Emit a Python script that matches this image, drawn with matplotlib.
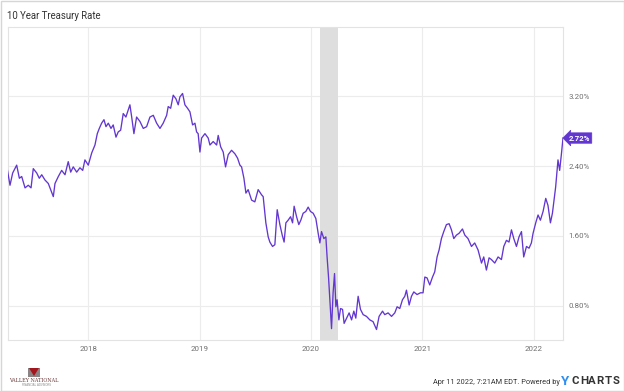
import matplotlib
matplotlib.use("Agg")
import matplotlib.pyplot as plt
from matplotlib.patches import Rectangle, Polygon

# ---- data (decimal year, 10Y rate in %) ----
years = [
    2017.273, 2017.297, 2017.321, 2017.357, 2017.381, 2017.402, 2017.432, 2017.461, 2017.486, 2017.506,
    2017.537, 2017.560, 2017.582, 2017.611, 2017.641, 2017.686, 2017.701, 2017.731, 2017.761, 2017.791,
    2017.820, 2017.842, 2017.865, 2017.896, 2017.925, 2017.950, 2017.970, 2018.000, 2018.031, 2018.060,
    2018.081, 2018.099, 2018.120, 2018.141, 2018.159, 2018.180, 2018.204, 2018.224, 2018.249, 2018.269,
    2018.291, 2018.314, 2018.338, 2018.374, 2018.390, 2018.410, 2018.434, 2018.464, 2018.494, 2018.524,
    2018.554, 2018.584, 2018.614, 2018.644, 2018.673, 2018.704, 2018.718, 2018.740, 2018.763, 2018.787,
    2018.808, 2018.823, 2018.847, 2018.868, 2018.892, 2018.913, 2018.937, 2018.958, 2018.973, 2018.987,
    2019.003, 2019.018, 2019.048, 2019.077, 2019.093, 2019.122, 2019.153, 2019.167, 2019.189, 2019.212,
    2019.233, 2019.257, 2019.287, 2019.317, 2019.341, 2019.362, 2019.377, 2019.398, 2019.416, 2019.436,
    2019.467, 2019.496, 2019.526, 2019.557, 2019.571, 2019.595, 2019.616, 2019.631, 2019.655, 2019.676,
    2019.697, 2019.721, 2019.742, 2019.759, 2019.775, 2019.795, 2019.817, 2019.835, 2019.849, 2019.871,
    2019.891, 2019.909, 2019.930, 2019.954, 2019.975, 2019.996, 2020.020, 2020.044, 2020.065, 2020.080,
    2020.095, 2020.116, 2020.134, 2020.145, 2020.158, 2020.170, 2020.185, 2020.199, 2020.212, 2020.224,
    2020.235, 2020.251, 2020.266, 2020.284, 2020.298, 2020.320, 2020.343, 2020.365, 2020.385, 2020.403,
    2020.424, 2020.445, 2020.469, 2020.499, 2020.529, 2020.558, 2020.589, 2020.612, 2020.643, 2020.663,
    2020.693, 2020.724, 2020.753, 2020.774, 2020.798, 2020.822, 2020.843, 2020.858, 2020.882, 2020.903,
    2020.924, 2020.953, 2020.984, 2021.007, 2021.023, 2021.043, 2021.067, 2021.092, 2021.112, 2021.133,
    2021.151, 2021.172, 2021.193, 2021.217, 2021.241, 2021.262, 2021.283, 2021.307, 2021.330, 2021.361,
    2021.382, 2021.411, 2021.442, 2021.471, 2021.501, 2021.532, 2021.552, 2021.576, 2021.600, 2021.621,
    2021.651, 2021.681, 2021.711, 2021.732, 2021.756, 2021.779, 2021.801, 2021.822, 2021.846, 2021.869,
    2021.891, 2021.911, 2021.936, 2021.959, 2021.980, 2021.995, 2022.019, 2022.040, 2022.061, 2022.085,
    2022.109, 2022.129, 2022.151, 2022.169, 2022.183, 2022.198, 2022.219, 2022.234, 2022.250, 2022.264,
]
rates = [
    2.36, 2.18, 2.32, 2.41, 2.26, 2.28, 2.15, 2.18, 2.15, 2.37,
    2.32, 2.26, 2.30, 2.24, 2.20, 2.05, 2.20, 2.28, 2.35, 2.30,
    2.45, 2.33, 2.39, 2.33, 2.38, 2.35, 2.47, 2.41, 2.55, 2.64,
    2.77, 2.83, 2.89, 2.93, 2.85, 2.89, 2.83, 2.87, 2.73, 2.79,
    2.81, 3.00, 2.96, 3.10, 2.96, 2.77, 2.96, 2.91, 2.83, 2.85,
    2.96, 2.98, 2.89, 2.83, 2.89, 2.98, 3.08, 3.06, 3.21, 3.17,
    3.10, 3.19, 3.23, 3.10, 3.06, 3.02, 2.87, 2.89, 2.79, 2.77,
    2.56, 2.72, 2.77, 2.72, 2.64, 2.68, 2.64, 2.75, 2.62, 2.56,
    2.39, 2.53, 2.58, 2.54, 2.49, 2.41, 2.39, 2.26, 2.09, 2.13,
    2.01, 1.99, 2.13, 2.07, 2.05, 1.75, 1.59, 1.53, 1.48, 1.50,
    1.90, 1.73, 1.61, 1.53, 1.75, 1.78, 1.82, 1.75, 1.94, 1.82,
    1.73, 1.78, 1.86, 1.88, 1.93, 1.88, 1.86, 1.80, 1.63, 1.52,
    1.65, 1.57, 1.59, 1.36, 1.13, 0.87, 0.54, 0.95, 1.17, 0.79,
    0.87, 0.64, 0.77, 0.76, 0.60, 0.66, 0.72, 0.64, 0.74, 0.66,
    0.91, 0.76, 0.70, 0.68, 0.64, 0.62, 0.53, 0.68, 0.74, 0.70,
    0.72, 0.68, 0.72, 0.79, 0.77, 0.87, 0.91, 0.98, 0.81, 0.91,
    0.96, 0.93, 0.95, 0.95, 1.13, 1.12, 1.04, 1.13, 1.19, 1.36,
    1.44, 1.57, 1.65, 1.73, 1.74, 1.67, 1.57, 1.61, 1.63, 1.68,
    1.61, 1.57, 1.48, 1.52, 1.44, 1.29, 1.36, 1.21, 1.35, 1.33,
    1.29, 1.36, 1.33, 1.48, 1.55, 1.53, 1.67, 1.57, 1.48, 1.59,
    1.65, 1.36, 1.48, 1.46, 1.52, 1.63, 1.75, 1.84, 1.78, 1.88,
    2.03, 1.95, 1.75, 1.86, 2.01, 2.16, 2.47, 2.35, 2.54, 2.72,
]
recession = (2020.085, 2020.247)
year_ticks = [2018, 2019, 2020, 2021, 2022]
y_ticks = [0.8, 1.6, 2.4, 3.2]
y_labels = ["0.80%", "1.60%", "2.40%", "3.20%"]
last_label = "2.72%"

LINE = "#6236d0"
GRID = "#ececec"
TXT = "#707070"

plt.rcParams["font.family"] = ["Roboto", "DejaVu Sans"]

fig = plt.figure(figsize=(6.24, 3.91), dpi=100)
W, H = 624, 391
ax = fig.add_axes([8 / W, 1 - 340 / H, (563 - 8) / W, (340 - 27) / H])

ax.axvspan(recession[0], recession[1], color="#dedede", lw=0, zorder=1)
ax.plot(years, rates, color=LINE, lw=0.95, zorder=3, solid_joinstyle="round")

ax.set_xlim(2017.279, 2022.264)
ax.set_ylim(0.41, 3.99)
ax.set_xticks(year_ticks)
ax.set_xticklabels([str(y) for y in year_ticks])
ax.set_yticks(y_ticks)
ax.set_yticklabels(y_labels)
ax.yaxis.tick_right()
ax.tick_params(axis="both", length=0, labelsize=5.7, labelcolor=TXT)
ax.tick_params(axis="y", pad=4)
ax.tick_params(axis="x", pad=4)
ax.grid(True, color=GRID, lw=0.8, zorder=0)
ax.set_axisbelow(True)
for s in ax.spines.values():
    s.set_color("#e3e3e3")
    s.set_linewidth(0.8)

# end-value label
ax.annotate(last_label, xy=(years[-1], rates[-1]), xytext=(4, 0), textcoords="offset points",
            ha="left", va="center", fontsize=5.6, fontweight="bold", color="white",
            bbox=dict(boxstyle="larrow,pad=0.22", fc=LINE, ec=LINE, lw=0.5), zorder=5,
            annotation_clip=False)

# title
fig.text(7 / W, 1 - 16 / H, "10 Year Treasury Rate", fontsize=6.9, color="#333333",
         ha="left", va="center")

# footer
fig.text(560 / W, 1 - 382.5 / H, "Apr 11 2022, 7:21AM EDT. Powered by", fontsize=5.3,
         color="#333333", ha="right", va="center")
fig.text(561 / W, 1 - 381.5 / H, "Y", fontsize=9.5, color="#2f8ef2", ha="left",
         va="center", fontweight="bold")
letters = "CHARTS"
for i, ch in enumerate(letters):
    fig.text((572 + i * 8.1) / W, 1 - 381.5 / H, ch, fontsize=8.2, color="#333333",
             ha="left", va="center", fontweight="bold")

# logo
fig.patches.append(Rectangle((28 / W, 1 - 377 / H), 12 / W, 9 / H, transform=fig.transFigure,
                             fc="#8c8484", ec="none"))
fig.patches.append(Polygon([(29 / W, 1 - 368 / H), (39 / W, 1 - 368 / H), (34 / W, 1 - 376 / H)],
                           closed=True, transform=fig.transFigure, fc="#a3161d", ec="none"))
fig.text(33.5 / W, 1 - 381 / H, "VALLEY NATIONAL", fontsize=3.5, family="DejaVu Serif",
         color="#6b3a3a", ha="center", va="center")
fig.text(36 / W, 1 - 385 / H, "FINANCIAL ADVISORS", fontsize=2.0, family="DejaVu Sans",
         color="#8a8a8a", ha="center", va="center")

# outer border
fig.patches.append(Rectangle((0.5 / W, 0.5 / H), 1 - 1 / W, 1 - 1 / H, transform=fig.transFigure,
                             fc="none", ec="#d6d6d6", lw=1))

fig.savefig("out.png", dpi=100)
